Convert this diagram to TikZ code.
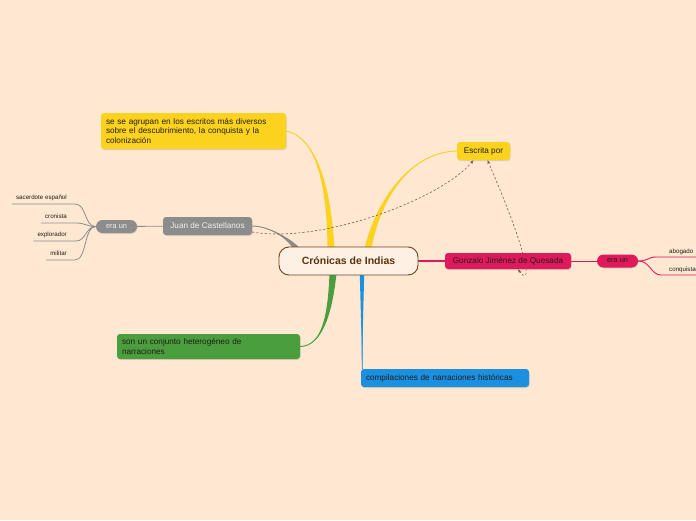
\documentclass[tikz,border=0pt]{standalone}
\usepackage{fontspec}
\setmainfont{Liberation Sans}
\usetikzlibrary{positioning,calc,shadows,arrows.meta}

\definecolor{paper}{RGB}{254,232,210}
\definecolor{bark}{RGB}{110,66,30}
\definecolor{barkink}{RGB}{88,50,18}
\definecolor{sun}{RGB}{251,210,30}
\definecolor{ash}{RGB}{140,140,140}
\definecolor{moss}{RGB}{74,158,62}
\definecolor{sky}{RGB}{28,144,224}
\definecolor{rose}{RGB}{224,25,90}
\definecolor{ink}{RGB}{35,30,25}
\definecolor{dashbrown}{RGB}{120,92,70}

\pgfdeclarelayer{bg}
\pgfdeclarelayer{branch}
\pgfdeclarelayer{links}
\pgfsetlayers{bg,branch,links,main}

% tapered branch: colour, start, control 1, control 2, end, half width
\newcommand{\twig}[6]{%
  \fill[#1] ($(#2)+(-#6,0)$) .. controls ($(#3)+(-0.6*#6,0)$) and (#4) .. (#5)
    .. controls (#4) and ($(#3)+(0.6*#6,0)$) .. ($(#2)+(#6,0)$) -- cycle;
  \draw[#1, line width=0.9pt] (#2) .. controls (#3) and (#4) .. (#5);}

\begin{document}
\begin{tikzpicture}[
    x=1pt, y=-1pt,
    topic/.style={rectangle, rounded corners=3pt, inner sep=0pt, text=ink,
      font=\fontsize{8.2}{9.6}\selectfont,
      drop shadow={opacity=0.25, shadow xshift=0.6pt, shadow yshift=-1pt}},
    note/.style={topic, inner xsep=5pt, align=left},
    pill/.style={topic, rounded corners=6.5pt, minimum width=41pt, minimum height=13pt,
      font=\fontsize{7.4}{8}\selectfont},
    mainidea/.style={rectangle, draw=bark, line width=0.9pt, fill=paper!60!white,
      rounded corners=10pt, minimum width=139pt, minimum height=28pt, text=barkink,
      font=\bfseries\fontsize{10.5}{12}\selectfont},
    leaf/.style={inner sep=0pt, text=ink, font=\fontsize{6.2}{7}\selectfont},
    ashline/.style={draw=ash, line width=0.8pt},
    roseline/.style={draw=rose, line width=0.9pt},
    relation/.style={draw=dashbrown, line width=0.6pt, dash pattern=on 2.2pt off 2pt}
]
\begin{pgfonlayer}{bg}
\fill[paper] (0,0) rectangle (696,520);
\end{pgfonlayer}
\path[clip] (0,0) rectangle (696,520);

% central idea and topics
\node[mainidea] (title) at (348.5,261) {Crónicas de Indias};
\node[topic, fill=sun, minimum width=53pt, minimum height=18pt] (escrita) at (483.5,151) {Escrita por};
\node[note, fill=sun, text width=175pt, minimum height=36pt] (agrupan) at (193.5,131)
  {se se agrupan en los escritos más diversos\\sobre el descubrimiento, la conquista y la\\colonización};
\node[topic, fill=ash, text=white!94!black, minimum width=89pt, minimum height=18pt] (juan) at (207.5,226) {Juan de Castellanos};
\node[pill, fill=ash, text=white!94!black] (eraJ) at (116.5,226.5) {era un};
\node[note, fill=moss, text width=173pt, minimum height=25pt] (conjunto) at (208.5,346.5)
  {son un conjunto heterogéneo de\\narraciones};
\node[note, fill=sky, text width=158pt, minimum height=18pt] (compil) at (445,378) {compilaciones de narraciones históricas};
\node[topic, fill=rose, minimum width=126pt, minimum height=16pt] (gonzalo) at (508,261) {Gonzalo Jiménez de Quesada};
\node[pill, fill=rose] (eraG) at (617.5,261) {era un};

% leaves
\node[leaf, anchor=base east] (sacer) at (67,199.5) {sacerdote español};
\node[leaf, anchor=base east] (cron)  at (67,218.5) {cronista};
\node[leaf, anchor=base east] (explo) at (67,236.5) {explorador};
\node[leaf, anchor=base east] (milit) at (67,255.5) {militar};
\node[leaf, anchor=base west] (abog)  at (669,253.5) {abogado};
\node[leaf, anchor=base west] (conq)  at (669,271.5) {conquistador};

% branch roots on the central idea
\coordinate (yl) at ([xshift=-17.5pt, yshift=-2pt]title.north);
\coordinate (yr) at ([xshift=19.5pt, yshift=-2pt]title.north);
\coordinate (gs) at ([xshift=-52pt, yshift=-2pt]title.north);
\coordinate (gb) at ([xshift=-15.5pt, yshift=2pt]title.south);
\coordinate (bb) at ([xshift=13.5pt, yshift=2pt]title.south);

\begin{pgfonlayer}{branch}
\twig{sun}{yl}{329,190}{318,138}{agrupan.east}{3.5}
\twig{sun}{yr}{378,200}{410,152}{escrita.west}{3.5}
\twig{ash}{gs}{289,238}{268,226}{juan.east}{3.5}
\twig{moss}{gb}{330,315}{322,346}{conjunto.east}{3.5}
\twig{sky}{bb}{362,310}{362,350}{[xshift=1.5pt]compil.north west}{2.2}
\draw[roseline, line width=1.2pt] (title) -- (gonzalo);
\draw[roseline] (gonzalo) -- (eraG);
\draw[ashline] (eraJ) -- (juan);
\draw[ashline] (eraJ.west) .. controls +(-12,0) and +(12,0) .. ([xshift=8pt, yshift=-4.5pt]sacer.base east) -- ([xshift=-4pt, yshift=-4.5pt]sacer.base west);
\draw[ashline] (eraJ.west) .. controls +(-10,0) and +(10,0) .. ([xshift=9pt, yshift=-4.5pt]cron.base east) -- ([xshift=-4pt, yshift=-4.5pt]cron.base west);
\draw[ashline] (eraJ.west) .. controls +(-10,0) and +(10,0) .. ([xshift=9pt, yshift=-4.5pt]explo.base east) -- ([xshift=-4pt, yshift=-4.5pt]explo.base west);
\draw[ashline] (eraJ.west) .. controls +(-12,0) and +(12,0) .. ([xshift=8pt, yshift=-4.5pt]milit.base east) -- ([xshift=-4pt, yshift=-4.5pt]milit.base west);
\draw[roseline] (eraG.east) .. controls +(10,0) and +(-8,0) .. ([xshift=-13pt, yshift=-3.5pt]abog.base west) -- ([xshift=4pt, yshift=-3.5pt]abog.base east);
\draw[roseline] (eraG.east) .. controls +(12,0) and +(-10,0) .. ([xshift=-8pt, yshift=-3.5pt]conq.base west) -- ([xshift=4pt, yshift=-3.5pt]conq.base east);
\end{pgfonlayer}

% relations
\begin{pgfonlayer}{links}
\draw[relation, -{Stealth[length=4pt, width=3pt]}] ([yshift=-6pt]juan.east)
  .. controls (320,244) and (440,200) .. ([xshift=-10pt]escrita.south);
\draw[relation, {Stealth[length=4pt, width=3pt]}-{Stealth[length=4pt, width=3pt]}] ([xshift=10pt]gonzalo.south)
  .. controls (530,286) and (534,268) .. ([xshift=4pt]escrita.south);
\end{pgfonlayer}
\end{tikzpicture}
\end{document}
